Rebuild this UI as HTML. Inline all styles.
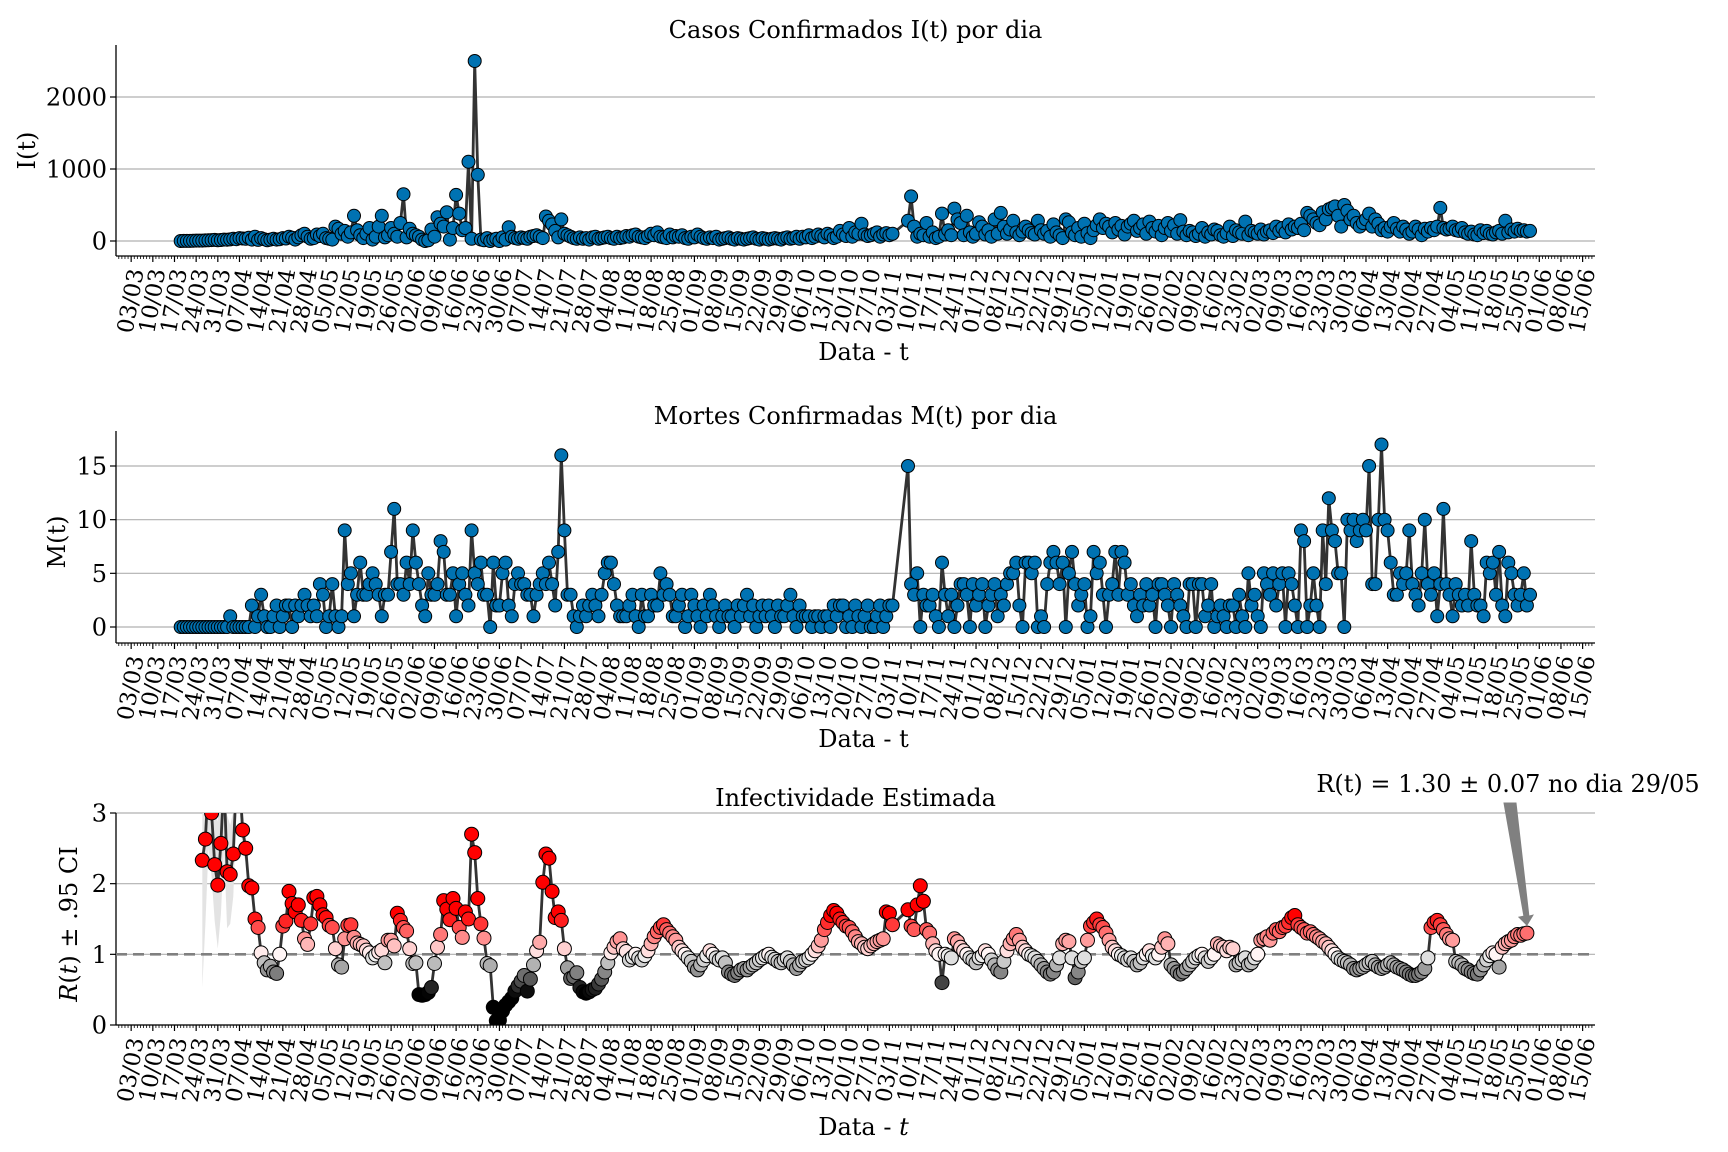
<!DOCTYPE html>
<html><head><meta charset="utf-8"><title>Casos, Mortes e Infectividade</title>
<style>
html,body{margin:0;padding:0;background:#fff;}
svg{display:block;font-family:"DejaVu Serif","Liberation Serif",serif;}
</style></head>
<body>
<svg id="chart" width="1728" height="1152" viewBox="0 0 1728 1152" xmlns="http://www.w3.org/2000/svg">
<rect width="1728" height="1152" fill="#fff"/>
</svg>
<script>
// ---- data (day index 0 = 03/03/2020) ----
const startDay = 16;
const casesI = [0,1,2,2,3,5,5,6,8,10,12,15,10,14,20,18,22,30,25,40,35,30,45,20,60,15,40,25,10,20,30,20,25,40,35,60,45,20,50,80,100,60,30,40,90,70,100,40,30,20,200,170,100,140,60,120,350,150,80,40,100,180,20,60,200,350,50,80,180,100,60,250,650,50,170,100,80,60,20,0,10,160,60,330,240,200,400,20,180,640,380,150,180,1100,30,2500,920,20,10,40,0,20,30,0,50,20,190,60,40,30,50,40,30,60,70,80,60,40,340,280,230,140,50,300,100,80,60,40,30,50,30,40,20,50,60,30,40,50,60,40,30,60,40,50,70,60,80,90,60,50,40,70,100,80,120,60,50,40,90,50,70,60,80,40,30,60,50,90,60,40,30,50,40,60,20,30,40,50,30,20,40,30,20,30,40,50,30,20,40,30,20,30,40,30,20,40,50,30,40,60,30,60,50,80,40,60,90,70,50,100,80,40,60,140,90,70,180,60,120,100,240,90,70,80,100,120,60,90,110,80,100,
null,null,null,null,
280,620,200,60,100,80,250,60,120,40,60,380,90,150,80,450,300,250,80,350,120,60,100,260,200,90,150,60,300,100,390,200,100,160,280,120,80,130,200,150,110,90,280,150,100,140,60,230,120,80,40,300,260,120,80,180,60,240,110,40,150,220,300,180,240,200,120,250,160,210,90,200,240,280,140,180,230,100,270,180,130,210,80,180,250,140,220,100,290,130,80,140,120,70,100,180,60,120,90,160,140,80,60,110,200,70,150,120,100,270,80,140,120,100,160,90,130,150,110,200,140,180,120,230,160,200,180,240,150,390,350,300,250,220,400,300,440,460,480,350,200,500,420,300,350,250,200,250,300,380,200,300,240,150,180,130,200,250,170,130,200,160,100,130,200,160,80,170,130,180,150,200,460,180,160,170,200,150,140,180,120,100,130,90,80,150,110,140,100,90,120,140,100,280,120,160,130,170,140,150,130,140];
const deathsM = [0,0,0,0,0,0,0,0,0,0,0,0,0,0,0,0,1,0,0,0,0,0,0,
2,0,1,3,1,0,0,1,2,0,1,2,2,0,2,1,2,3,2,1,2,1,4,3,0,1,4,1,0,1,
9,4,5,1,3,6,3,3,4,5,4,3,1,3,3,7,11,4,4,3,6,4,9,6,4,2,1,5,3,3,
4,8,7,3,3,5,1,4,5,3,2,9,5,4,6,3,3,0,6,2,2,5,6,2,1,4,5,4,4,3,
3,1,3,4,5,4,6,4,2,7,16,9,3,3,1,0,1,2,1,2,3,2,1,3,5,6,6,4,2,1,
1,1,2,3,1,0,3,1,1,3,2,2,5,3,4,3,1,1,2,3,0,1,3,2,1,0,2,1,3,2,
1,0,1,2,1,1,0,2,1,2,3,1,2,0,1,2,1,2,1,0,2,1,1,2,3,1,0,2,1,1,
1,0,1,1,0,1,1,0,2,1,2,2,0,1,0,2,1,0,1,2,0,0,1,2,0,1,2,2,
null,null,null,null,
15,4,3,5,0,3,2,2,3,1,0,6,3,1,3,0,2,4,4,3,0,4,2,3,4,0,2,3,4,1,
3,2,4,5,5,6,2,0,6,6,5,6,0,1,0,4,6,7,6,4,6,0,5,7,4,2,3,4,0,1,
7,5,6,3,0,3,4,7,3,7,6,3,4,2,1,3,2,4,2,3,0,4,4,3,2,0,4,3,2,1,
0,4,4,0,4,4,1,2,4,0,1,2,1,0,2,2,0,3,1,0,5,2,3,1,0,5,4,3,5,2,
4,5,0,5,4,2,0,9,8,0,2,5,2,0,9,4,12,9,8,5,5,0,10,9,10,8,9,10,9,15,4,4,10,17,10,9,6,3,3,5,
4,5,9,4,3,2,5,10,4,3,5,1,4,11,4,3,1,4,3,2,
3,2,8,3,2,2,1,6,5,6,3,7,2,1,6,5,3,2,3,5,2,3];
const rStart = 23;
const rValues = [2.33,2.63,3.5,3.0,2.27,1.98,2.57,3.5,2.17,2.13,
2.42,3.5,3.5,2.76,2.50,1.97,1.94,1.50,1.38,1.02,
0.88,0.78,0.83,0.75,0.73,1.0,1.40,1.47,1.89,1.72,
1.60,1.70,1.48,1.22,1.14,1.43,1.80,1.82,1.70,1.56,
1.52,1.41,1.38,1.08,0.85,0.82,1.22,1.41,1.42,1.24,
1.16,1.14,1.12,1.06,1.02,0.95,0.99,1.03,1.06,0.88,
1.20,1.20,1.12,1.58,1.48,1.38,1.33,1.08,0.87,0.88,
0.43,0.42,0.43,0.46,0.53,0.87,1.10,1.28,1.76,1.64,
1.49,1.79,1.65,1.38,1.24,1.60,1.50,2.70,2.44,1.79,
1.43,1.23,0.87,0.84,0.25,0.06,0.07,0.20,0.28,0.33,
0.38,0.48,0.55,0.62,0.70,0.48,0.65,0.85,1.05,1.17,
2.02,2.42,2.36,1.89,1.52,1.60,1.48,1.08,0.81,0.66,
0.68,0.74,0.53,0.47,0.45,0.47,0.50,0.52,0.58,0.65,
0.75,0.88,1.02,1.10,1.18,1.22,1.08,1.04,0.92,0.96,
1.00,0.95,0.92,0.98,1.05,1.15,1.25,1.32,1.38,1.42,
1.35,1.30,1.25,1.20,1.10,1.05,1.00,0.95,0.90,0.82,
0.78,0.85,0.92,0.98,1.05,1.00,0.95,0.92,0.95,0.88,
0.75,0.72,0.70,0.74,0.78,0.80,0.78,0.82,0.85,0.88,
0.92,0.95,0.98,1.00,0.96,0.93,0.90,0.88,0.92,0.95,
0.90,0.85,0.80,0.85,0.90,0.92,0.95,1.00,1.05,1.12,
1.20,1.35,1.45,1.55,1.62,1.58,1.50,1.45,1.40,1.38,
1.32,1.25,1.18,1.15,1.10,1.08,1.12,1.15,1.18,1.20,
1.22,1.60,1.58,1.42,
null,null,null,null,
1.63,1.40,1.35,1.70,1.97,1.75,1.35,1.30,1.15,1.05,
1.00,0.60,1.00,0.98,0.95,1.22,1.18,1.10,1.05,1.00,
0.95,0.92,0.88,0.95,0.98,1.05,1.00,0.92,0.85,0.78,
0.75,0.90,1.05,1.15,1.22,1.28,1.20,1.10,1.05,1.00,
0.98,0.95,0.90,0.85,0.80,0.75,0.72,0.75,0.85,0.95,
1.15,1.20,1.18,0.95,0.67,0.75,0.90,0.95,1.20,1.40,
1.45,1.50,1.42,1.38,1.30,1.20,1.10,1.05,1.00,0.98,
0.95,0.92,0.95,0.90,0.85,0.88,0.95,1.00,1.05,0.98,
0.95,1.00,1.10,1.22,1.15,0.85,0.80,0.75,0.72,0.75,
0.80,0.85,0.90,0.95,0.98,1.00,0.95,0.90,0.95,1.00,
1.15,1.12,1.10,1.05,1.10,1.08,0.85,0.88,0.92,0.95,
0.85,0.88,0.95,1.00,1.20,1.22,1.25,1.20,1.30,1.35,
1.32,1.38,1.40,1.45,1.52,1.55,1.42,1.38,1.35,1.30,
1.32,1.28,1.25,1.22,1.18,1.15,1.10,1.05,1.00,0.95,
0.92,0.90,0.88,0.85,0.80,0.78,0.80,0.82,0.85,0.88,
0.90,0.85,0.82,0.80,0.82,0.85,0.88,0.85,0.82,0.80,
0.78,0.75,0.72,0.70,0.70,0.72,0.75,0.80,0.95,1.38,
1.45,1.48,1.42,1.35,1.28,1.22,1.20,0.90,0.88,0.85,
0.80,0.78,0.75,0.73,0.72,0.78,0.85,0.92,0.98,1.02,
1.00,0.82,1.10,1.15,1.18,1.20,1.25,1.28,1.27,1.29,1.30];
const rCiHalf = [1.8,1.2,1.0,0.9,0.8,0.9,1.0,1.0,0.8,0.7,0.6,0.5,0.4,0.3,0.2,0.15,0.12,0.1,0.1,0.08];
const yTicksI = [0,1000,2000];
const yTicksM = [0,5,10,15];
const yTicksR = [0,1,2,3];
const lastR = "1.30", lastRerr = "0.07", lastDate = "29/05";

// ---- layout ----
const NS = "http://www.w3.org/2000/svg";
const svg = document.getElementById('chart');
const X0 = 116, X1 = 1595;
const dayMin = -4.9, dayMax = 473;
function xScale(d){ return X0 + (d - dayMin) / (dayMax - dayMin) * (X1 - X0); }
function mk(tag, attrs, parent){
  const e = document.createElementNS(NS, tag);
  for (const k in attrs) e.setAttribute(k, attrs[k]);
  (parent || svg).appendChild(e);
  return e;
}
const panels = [
  {key:'cases', top:45, bottom:256, y0:241, yRef:2000, yRefPx:97, ticks:yTicksI, title:'Casos Confirmados I(t) por dia', ylab:'I(t)', ylabX:35, xlab:'Data - t', xlabY:360},
  {key:'deaths', top:431, bottom:643, y0:627, yRef:15, yRefPx:466, ticks:yTicksM, title:'Mortes Confirmadas M(t) por dia', ylab:'M(t)', ylabX:65, xlab:'Data - t', xlabY:747},
  {key:'rt', top:813, bottom:1025, y0:1025, yRef:3, yRefPx:813, ticks:yTicksR, title:'Infectividade Estimada', ylab:'R', ylabX:77, xlab:'Data - ', xlabY:1135}
];
panels.forEach(p => { p.y = v => p.y0 + (p.yRefPx - p.y0) * v / p.yRef; });

const base = new Date(2020, 2, 3);
function fmt(d){ const dt = new Date(base.getTime() + d*86400000); return String(dt.getDate()).padStart(2,'0') + '/' + String(dt.getMonth()+1).padStart(2,'0'); }

panels.forEach(p => {
  const g = mk('g', {});
  
  
  p.ticks.forEach(t => {
    const y = p.y(t);
    const gl = mk('line', {x1:X0, x2:X1, y1:y, y2:y, stroke:'#b0b0b0', 'stroke-width':1.2}, g);
    
    
    mk('line', {x1:X0-6, x2:X0, y1:y, y2:y, stroke:'#000', 'stroke-width':1.2}, g);
    const tl = mk('text', {x:X0-9, y:y+8.5, 'text-anchor':'end', 'font-size':24}, g);
    tl.textContent = String(t);
    
    
  });
  for (let d = -4; d <= 472; d++) {
    const x = xScale(d);
    const major = (d % 7 === 0) && d >= 0 && d <= 469;
    mk('line', {x1:x, x2:x, y1:p.bottom, y2:p.bottom + (major ? 6 : 3), stroke:'#000', 'stroke-width':major?1.2:0.8}, g);
    if (major) {
      const cy = p.bottom + 45;
      const tl = mk('text', {x:x, y:cy+7, 'text-anchor':'middle', 'font-size':22.5, transform:'rotate(-80 '+x+' '+cy+')'}, g);
      tl.textContent = fmt(d);
      
      
    }
  }
  const sp1 = mk('line', {x1:X0, x2:X0, y1:p.top, y2:p.bottom, stroke:'#000', 'stroke-width':1.3}, g);
  
  
  const sp2 = mk('line', {x1:X0, x2:X1, y1:p.bottom, y2:p.bottom, stroke:'#000', 'stroke-width':1.3}, g);
  
  
  const tt = mk('text', {x:(X0+X1)/2, y:p.top - 7, 'text-anchor':'middle', 'font-size':24}, g);
  tt.textContent = p.title;
  
  
  const xl = mk('text', {x:(X0+X1)/2 + 8, y:p.xlabY, 'text-anchor':'middle', 'font-size':24}, g);
  xl.textContent = p.xlab;
  if (p.key === 'rt') { const ts = mk('tspan', {'font-style':'italic'}, xl); ts.textContent = 't'; }
  
  
  const cyl = (p.top + p.bottom) / 2 + (p.key==='cases' ? 0 : 5);
  const yl = mk('text', {x:p.ylabX, y:cyl, 'text-anchor':'middle', 'font-size':24, transform:'rotate(-90 '+p.ylabX+' '+cyl+')'}, g);
  if (p.key === 'rt') {
    const a = mk('tspan', {'font-style':'italic'}, yl); a.textContent = 'R';
    const b = mk('tspan', {}, yl); b.textContent = '(';
    const c = mk('tspan', {'font-style':'italic'}, yl); c.textContent = 't';
    const d2 = mk('tspan', {}, yl); d2.textContent = ') \u00b1 .95 CI';
  } else yl.textContent = p.ylab;
  
  
  p.g = g;
});

const defs = mk('defs', {});
const cp = mk('clipPath', {id:'clipR'}, defs);
mk('rect', {x:X0, y:813, width:X1-X0, height:1025-813}, cp);

function drawSeries(p, values, start, colorFn, r, clip){
  const g = mk('g', clip ? {'clip-path':'url(#clipR)'} : {}, p.g);
  let pts = [];
  values.forEach((v,i) => { if (v !== null) pts.push([xScale(start+i), p.y(v), v]); });
  const line = mk('polyline', {points: pts.map(q => q[0].toFixed(1)+','+q[1].toFixed(1)).join(' '), fill:'none', stroke:'#333', 'stroke-width':2.8, 'stroke-linejoin':'round'}, g);
  
  
  pts.forEach(q => {
    const c = mk('circle', {cx:q[0].toFixed(1), cy:q[1].toFixed(1), r:r, fill:colorFn(q[2]), stroke:'#000', 'stroke-width':1}, g);
    
    
  });
}
drawSeries(panels[0], casesI, startDay, () => '#0072b2', 6.5, false);
drawSeries(panels[1], deathsM, startDay, () => '#0072b2', 6.5, false);

const pr = panels[2];
(function(){
  const g = mk('g', {'clip-path':'url(#clipR)'}, pr.g);
  let up = [], lo = [];
  rValues.forEach((v,i) => {
    if (v === null) return;
    const h = i < rCiHalf.length ? rCiHalf[i] : 0.04;
    up.push(xScale(rStart+i).toFixed(1)+','+pr.y(v+h).toFixed(1));
    lo.unshift(xScale(rStart+i).toFixed(1)+','+pr.y(Math.max(0,v-h)).toFixed(1));
  });
  const band = mk('polygon', {points: up.concat(lo).join(' '), fill:'#e3e3e3', stroke:'none'}, g);
  
  
  const ref = mk('line', {x1:X0, x2:X1, y1:pr.y(1), y2:pr.y(1), stroke:'#808080', 'stroke-width':2.6, 'stroke-dasharray':'11,6'}, g);
  
  
})();
function rColor(v){
  if (v >= 1) { const t = Math.min((v-1)/0.55, 1); const gb = Math.round(245*(1-t)); return 'rgb(255,'+gb+','+gb+')'; }
  const t = Math.min((1-v)/0.55, 1); const c = Math.round(245*(1-t)); return 'rgb('+c+','+c+','+c+')';
}
drawSeries(pr, rValues, rStart, rColor, 7, true);

const lastIdx = rValues.length - 1;
const ax = xScale(rStart + lastIdx), ay = pr.y(rValues[lastIdx]);
const ann = mk('g', {});


mk('polygon', {points:(1504)+','+803+' '+(1516)+','+803+' '+(ax+2)+','+(ay-17)+' '+(ax+6)+','+(ay-18)+' '+(ax)+','+(ay-8)+' '+(ax-8)+','+(ay-16)+' '+(ax-3)+','+(ay-17), fill:'#808080', stroke:'#808080', 'stroke-width':1}, ann);
const at = mk('text', {x:1508, y:792, 'text-anchor':'middle', 'font-size':24}, ann);
at.textContent = 'R(t) = ' + lastR + ' \u00b1 ' + lastRerr + ' no dia ' + lastDate;
</script>
</body></html>
